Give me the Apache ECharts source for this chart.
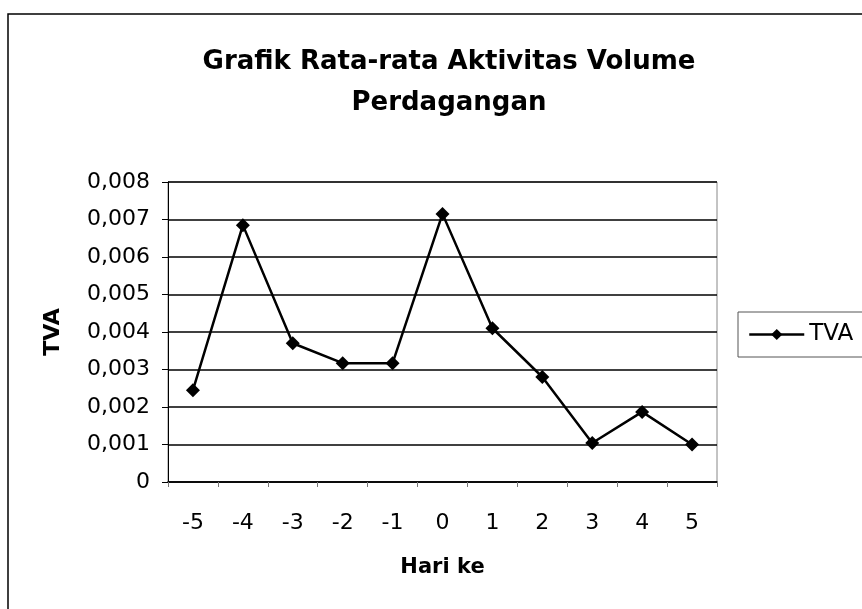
<!DOCTYPE html>
<html><head><meta charset="utf-8">
<script src="https://cdn.jsdelivr.net/npm/echarts@6/dist/echarts.min.js"></script>
<style>html,body{margin:0;padding:0;background:#fff}#c{width:862px;height:609px}</style>
</head><body><div id="c"></div>
<script>
const categories = ['-5','-4','-3','-2','-1','0','1','2','3','4','5'];
const tvaValues = [0.00245, 0.00685, 0.0037, 0.00317, 0.00317, 0.00715, 0.0041, 0.0028, 0.00104, 0.00187, 0.001];
const yTicks = [0, 0.001, 0.002, 0.003, 0.004, 0.005, 0.006, 0.007, 0.008];
const titleText = 'Grafik Rata-rata Aktivitas Volume\nPerdagangan';
const seriesName = 'TVA';
const xName = 'Hari ke';
const yName = 'TVA';

const font = '"DejaVu Sans", sans-serif';
const chart = echarts.init(document.getElementById('c'), null, {renderer: 'canvas'});
chart.setOption({
  animation: false,
  backgroundColor: '#fff',
  graphic: [{
    type: 'rect', shape: {x: 8, y: 14, width: 1000, height: 800},
    style: {fill: 'none', stroke: '#000', lineWidth: 1.5}, silent: true
  }, {
    type: 'rect', shape: {x: 738, y: 312, width: 300, height: 45},
    style: {fill: 'none', stroke: '#555', lineWidth: 1}, silent: true
  }],
  title: {
    text: titleText, left: 444, top: 37, textAlign: 'center',
    textStyle: {fontFamily: font, fontSize: 26, fontWeight: 'bold', color: '#000', lineHeight: 41}
  },
  legend: {
    data: [seriesName], left: 748, top: 323, orient: 'vertical',
    itemWidth: 55, itemHeight: 14, itemGap: 0,
    padding: 0,
    lineStyle: {width: 2.5},
    textStyle: {fontFamily: font, fontSize: 23, color: '#000'}
  },
  grid: {left: 168, right: 145, top: 182, bottom: 127, show: true, borderColor: '#888', borderWidth: 1, backgroundColor: 'transparent'},
  xAxis: {
    type: 'category', data: categories, boundaryGap: true,
    name: xName, nameLocation: 'middle', nameGap: 75,
    nameTextStyle: {fontFamily: font, fontSize: 21, fontWeight: 'bold', color: '#000'},
    axisLine: {lineStyle: {color: '#000', width: 1.5}},
    axisTick: {show: true, alignWithLabel: false, length: 5, inside: false, lineStyle: {color: '#777'}},
    axisLabel: {fontFamily: font, fontSize: 22, color: '#000', margin: 30},
    splitLine: {show: false}
  },
  yAxis: {
    type: 'value', min: 0, max: 0.008, interval: 0.001,
    name: yName, nameLocation: 'middle', nameGap: 104, nameRotate: 90,
    nameTextStyle: {fontFamily: font, fontSize: 22, fontWeight: 'bold', color: '#000'},
    axisLine: {show: true, lineStyle: {color: '#000', width: 1}},
    axisTick: {show: true, length: 6, lineStyle: {color: '#000'}},
    axisLabel: {fontFamily: font, fontSize: 22, color: '#000', margin: 18,
      formatter: v => { const t = yTicks.find(x => Math.abs(x - v) < 1e-9); return t === 0 ? '0' : (t !== undefined ? t.toFixed(3).replace('.', ',') : ''); }},
    splitLine: {show: true, lineStyle: {color: '#000', width: 1.5}}
  },
  series: [{
    name: seriesName, type: 'line', data: tvaValues,
    symbol: 'diamond', symbolSize: 14,
    lineStyle: {color: '#000', width: 2.5},
    itemStyle: {color: '#000'}
  }]
});
</script></body></html>
